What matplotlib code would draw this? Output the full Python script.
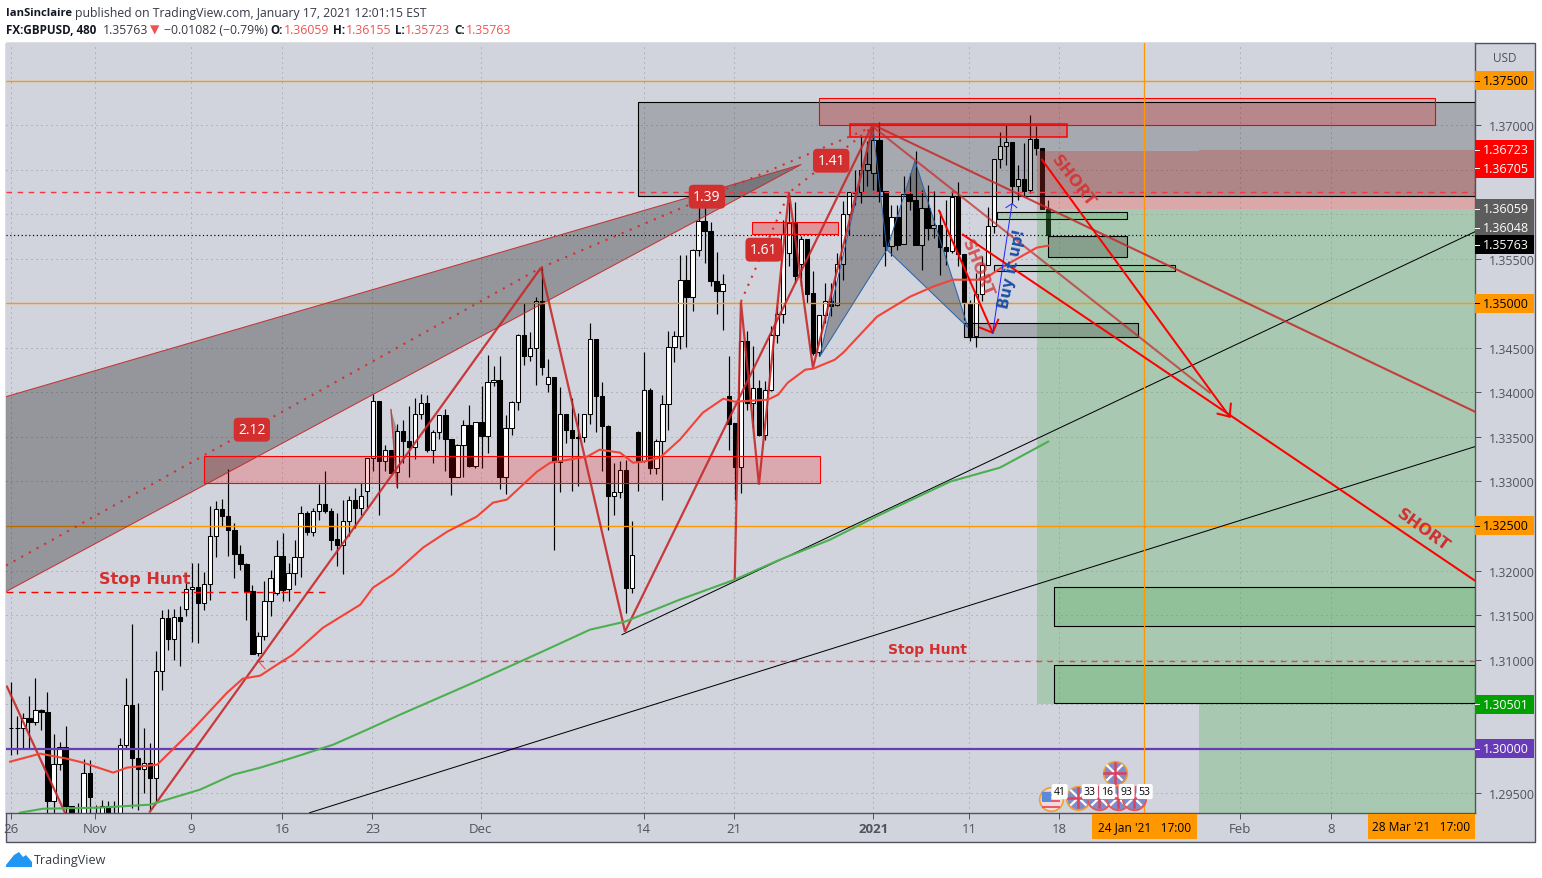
import matplotlib
matplotlib.use("Agg")
import matplotlib.pyplot as plt
from matplotlib.patches import Rectangle, Polygon

plt.rcParams['font.family'] = ['Open Sans', 'DejaVu Sans']

# 8h candles, one row per bar: open, high, low, close
opens = [1.30232,1.30232,1.30232,1.30344,1.30296,1.30434,1.30412,1.29409,1.29828,1.30019,1.29353,1.29270,1.29250,1.29727,1.29260,
 1.29250,1.29353,1.29260,1.29250,1.30037,1.30490,1.29891,1.29772,1.29839,1.29667,1.30872,1.31467,1.31231,1.31478,1.31568,
 1.31792,1.31815,1.31635,1.31849,1.32387,1.32690,1.32612,1.32455,1.32185,1.32073,1.31766,1.31074,1.31261,1.31658,1.31747,
 1.32159,1.31792,1.31972,1.32148,1.32646,1.32429,1.32664,1.32747,1.32668,1.32354,1.32283,1.32556,1.32795,1.32702,1.32896,
 1.33263,1.33903,1.33226,1.33357,1.33102,1.33566,1.33454,1.33383,1.33757,1.33880,1.33349,1.33555,1.33746,1.33476,1.33046,
 1.33405,1.33630,1.33169,1.33667,1.33506,1.34112,1.34139,1.33046,1.33596,1.33892,1.34644,1.34404,1.34494,1.35022,1.34094,
 1.34172,1.33214,1.33757,1.33581,1.33499,1.33499,1.33757,1.34599,1.33955,1.33619,1.32833,1.32878,1.33132,1.31804,1.33555,
 1.33226,1.34030,1.33147,1.33450,1.33869,1.34509,1.34629,1.35261,1.35067,1.35598,1.35920,1.35811,1.35250,1.35134,1.33963,
 1.33656,1.33158,1.34580,1.33877,1.34049,1.33517,1.34026,1.34644,1.34880,1.35564,1.35909,1.35441,1.35722,1.35115,1.34449,
 1.34872,1.35029,1.34977,1.35441,1.36002,1.36249,1.36245,1.36500,1.36462,1.36837,1.36257,1.35639,1.35968,1.35665,1.36227,
 1.36163,1.35650,1.36070,1.35845,1.35882,1.35632,1.35590,1.36200,1.35553,1.35003,1.34636,1.35108,1.35433,1.35871,1.36620,
 1.36762,1.36810,1.36313,1.36395,1.36268,1.36844,1.36739,1.36059]
highs = [1.30748,1.30370,1.30400,1.30595,1.30793,1.30445,1.30636,1.30165,1.30075,1.30258,1.29353,1.29390,1.29884,1.29877,1.29371,
 1.29427,1.29409,1.29409,1.30120,1.30793,1.31403,1.30513,1.30232,1.30064,1.31093,1.31553,1.31568,1.31568,1.31598,1.31878,
 1.32084,1.32084,1.31983,1.32728,1.32777,1.32807,1.33143,1.32533,1.32286,1.32084,1.31841,1.31306,1.31878,1.32009,1.32346,
 1.32421,1.32084,1.32346,1.32728,1.32664,1.32702,1.32975,1.33121,1.32702,1.32646,1.32795,1.32840,1.32926,1.32982,1.33263,
 1.33982,1.33903,1.33405,1.33357,1.33648,1.33693,1.33851,1.33937,1.33982,1.33974,1.33581,1.33750,1.33813,1.33476,1.33420,
 1.33693,1.33862,1.33667,1.34075,1.34423,1.34300,1.34412,1.33750,1.33903,1.34655,1.35003,1.34678,1.35070,1.35396,1.34374,
 1.34172,1.34060,1.33757,1.33937,1.33768,1.33757,1.34779,1.34599,1.34116,1.33637,1.33207,1.33226,1.33244,1.32560,1.33570,
 1.34453,1.34049,1.33476,1.33974,1.34692,1.34692,1.35546,1.35546,1.35609,1.36280,1.36220,1.35909,1.35576,1.35332,1.34412,
 1.33656,1.34580,1.34692,1.34524,1.34142,1.34124,1.34741,1.34966,1.35938,1.36137,1.36137,1.35759,1.35722,1.35359,1.34872,
 1.35228,1.35228,1.35564,1.36152,1.36249,1.36500,1.36874,1.36818,1.36986,1.37035,1.36257,1.36107,1.36107,1.36425,1.36462,
 1.36706,1.36275,1.36331,1.36257,1.36032,1.36163,1.36257,1.36358,1.35553,1.35041,1.35340,1.35527,1.36081,1.36620,1.36923,
 1.36998,1.36810,1.36556,1.36799,1.37117,1.36986,1.36739,1.36155]
lows = [1.29925,1.29944,1.30007,1.30000,1.30269,1.30206,1.29250,1.29250,1.29764,1.29250,1.29250,1.29200,1.29200,1.29250,1.29200,
 1.29250,1.29250,1.29200,1.29250,1.30007,1.29334,1.29315,1.29502,1.29315,1.29390,1.30655,1.31111,1.30999,1.30924,1.31493,
 1.31194,1.31186,1.31560,1.31665,1.32148,1.32503,1.32159,1.31912,1.32009,1.31448,1.31066,1.31037,1.31216,1.31493,1.31729,
 1.31654,1.31661,1.31841,1.31923,1.32402,1.32391,1.32563,1.32646,1.32234,1.32047,1.31961,1.32384,1.32477,1.32627,1.32702,
 1.33113,1.32627,1.33113,1.33095,1.32926,1.33207,1.33046,1.33256,1.33705,1.33327,1.33207,1.33476,1.33113,1.32844,1.33095,
 1.33046,1.33158,1.33151,1.33151,1.33319,1.34068,1.32915,1.32863,1.33525,1.33806,1.34311,1.34356,1.34086,1.34191,1.34000,
 1.32234,1.32878,1.33431,1.32889,1.32945,1.33443,1.33648,1.33551,1.33113,1.32451,1.32627,1.32814,1.31523,1.31748,1.32896,
 1.33218,1.33087,1.33087,1.32795,1.33581,1.34337,1.34487,1.34505,1.34910,1.35527,1.35452,1.35190,1.34883,1.34704,1.33357,
 1.32795,1.32870,1.33806,1.33600,1.33506,1.33469,1.34011,1.34554,1.34779,1.35415,1.35228,1.35190,1.35003,1.34423,1.34404,
 1.34779,1.34853,1.34966,1.35265,1.35770,1.36107,1.36126,1.36313,1.36275,1.36133,1.35415,1.35527,1.35602,1.35665,1.36051,
 1.35650,1.35377,1.35714,1.35733,1.35321,1.35433,1.35564,1.35415,1.34816,1.34573,1.34505,1.35022,1.35433,1.35789,1.36519,
 1.36556,1.36126,1.36163,1.36200,1.36238,1.36668,1.36059,1.35723]
closes = [1.30235,1.30228,1.30344,1.30296,1.30430,1.30408,1.29409,1.29828,1.30019,1.29353,1.29250,1.29250,1.29727,1.29454,1.29250,
 1.29353,1.29250,1.29250,1.30037,1.30490,1.29891,1.29772,1.29839,1.29667,1.30872,1.31467,1.31231,1.31474,1.31429,1.31792,
 1.31815,1.31635,1.31849,1.32387,1.32690,1.32608,1.32451,1.32185,1.32073,1.31766,1.31066,1.31261,1.31658,1.31916,1.32159,
 1.31785,1.31972,1.32148,1.32646,1.32429,1.32664,1.32747,1.32664,1.32346,1.32283,1.32556,1.32788,1.32702,1.32833,1.33263,
 1.33903,1.33226,1.33349,1.33095,1.33566,1.33450,1.33383,1.33757,1.33880,1.33349,1.33555,1.33746,1.33476,1.33046,1.33405,
 1.33630,1.33169,1.33667,1.33506,1.34116,1.34135,1.33046,1.33596,1.33892,1.34644,1.34404,1.34494,1.35022,1.34281,1.34172,
 1.33214,1.33757,1.33574,1.33484,1.33484,1.33757,1.34599,1.33955,1.33619,1.32833,1.32878,1.33132,1.31804,1.32174,1.33226,
 1.34023,1.33147,1.33450,1.33869,1.34509,1.34629,1.35261,1.35067,1.35598,1.35920,1.35808,1.35246,1.35134,1.35216,1.33648,
 1.33158,1.34580,1.33877,1.34049,1.33517,1.34026,1.34644,1.34880,1.35778,1.35901,1.35302,1.35722,1.35108,1.34442,1.34872,
 1.35029,1.34973,1.35441,1.36002,1.36249,1.36238,1.36500,1.36567,1.36837,1.36257,1.35639,1.35968,1.35658,1.36227,1.36152,
 1.35650,1.36070,1.35845,1.35882,1.35628,1.35590,1.36193,1.35553,1.35003,1.34636,1.35108,1.35433,1.35871,1.36620,1.36762,
 1.36810,1.36313,1.36395,1.36264,1.36844,1.36739,1.36059,1.35763]

# moving averages, bar position and price
ema_red_x = [0.8,5.8,10.2,12.9,17.9,20.2,25.2,30.6,36.8,39.4,42.3,45.6,47.7,52.7,58.9,61,64.3,69.3,73.3,78.2,80.9,83.2,88.2,90.4,96.5,98.6,102,104.1,105.8,108.6,111.9,115.7,119.1,121,126.5,128.2,129.8,132.7,134,137.6,139,144.6,150.1,153.9,157.2,162.2,165.5,171.1,173]
ema_red_y = [1.29854,1.29944,1.29888,1.29843,1.29731,1.29787,1.2982,1.3018,1.30629,1.30786,1.3082,1.30966,1.31055,1.31358,1.31617,1.31808,1.31954,1.32257,1.32436,1.32605,1.32762,1.32796,1.3311,1.33211,1.33278,1.33357,1.33323,1.33211,1.33222,1.33267,1.33469,1.33772,1.33929,1.33896,1.33918,1.33974,1.34109,1.34255,1.34266,1.34367,1.34446,1.3485,1.35075,1.35187,1.35265,1.35265,1.35411,1.35625,1.35647]
ema_green_x = [2.4,6.3,15.7,24,32.3,37.8,42.3,47.7,54.4,60,65.5,78.8,88.7,97,102.8,111.9,121,128.5,136.8,145.1,156.7,165,173]
ema_green_y = [1.29281,1.29326,1.29338,1.29371,1.2954,1.29708,1.29787,1.29899,1.30045,1.30213,1.30382,1.30775,1.31078,1.31336,1.31426,1.31673,1.31897,1.32122,1.32346,1.32627,1.32998,1.33155,1.33447]

# price scale
price_ticks = [1.295,1.30,1.305,1.31,1.315,1.32,1.325,1.33,1.335,1.34,1.345,1.35,1.355,1.36,1.365,1.37,1.375]
plain_labels = {1.295:'1.29500',1.31:'1.31000',1.315:'1.31500',1.32:'1.32000',1.33:'1.33000',1.335:'1.33500',1.34:'1.34000',1.345:'1.34500',1.355:'1.35500',1.37:'1.37000'}

# price flags: shown position, text, background, text colour
flag_y = [1.375,1.36723,1.36517,1.36059,1.35849,1.35658,1.35,1.325,1.30501,1.30]
flag_text = ['1.37500','1.36723','1.36705','1.36059','1.36048','1.35763','1.35000','1.32500','1.30501','1.30000']
flag_bg = ['#ff9800','#ff0000','#ff0000','#5d5d5d','#5d5d5d','#000000','#ff9800','#ff9800','#00a000','#673ab7']
flag_fg = ['black','white','white','white','white','white','black','black','white','white']

# time scale
date_ticks = [1,14.93,30.86,45.95,60.9,78.9,105.9,120.9,144,159.9,174.8,204.8,219.9]
date_labels = ['26','Nov','9','16','23','Dec','14','21','2021','11','18','Feb','8']

XMIN, XMAX = 0.12, 243.8
YMIN, YMAX = 1.29281, 1.37926

fig = plt.figure(figsize=(15.42, 8.79), dpi=100)
W, H = 1542.0, 879.0
bg = '#d1d4dc'
fig.patches.append(Rectangle((6/W, 1-842.5/H), 1529/W, 799/H, transform=fig.transFigure, facecolor=bg, edgecolor='#50535e', lw=1.0, zorder=-1))

ax = fig.add_axes([6/W, 1-813.7/H, 1469/W, 770/H])
ax.set_facecolor(bg)
ax.set_xlim(XMIN, XMAX)
ax.set_ylim(YMIN, YMAX)
for s in ['left', 'top']:
    ax.spines[s].set_visible(False)
for s in ['right', 'bottom']:
    ax.spines[s].set_color('#50535e')
    ax.spines[s].set_linewidth(1.0)

ax.yaxis.tick_right()
ax.set_yticks(price_ticks)
ax.set_yticklabels([plain_labels.get(p, '') for p in price_ticks], fontsize=9, color='#50535e')
ax.set_xticks(date_ticks)
ax.set_xticklabels(date_labels, fontsize=9.5, color='#50535e')
ax.get_xticklabels()[8].set_fontweight('bold')
ax.tick_params(axis='y', length=4, width=0.72, color='#50535e', pad=6)
ax.tick_params(axis='x', length=4, width=0.72, color='#50535e', pad=3)
ax.grid(True, color='#9598a1', lw=0.72, ls=(0, (1, 4)), zorder=0)
ax.set_axisbelow(True)

# candles
n = list(range(1, len(opens)+1))
ax.vlines(n, lows, highs, color='black', lw=0.85, zorder=2)
for i in range(len(opens)):
    top = max(opens[i], closes[i])
    bot = min(opens[i], closes[i])
    col = 'white' if closes[i] >= opens[i] else 'black'
    ax.add_patch(Rectangle((n[i]-0.36, bot), 0.72, top-bot, facecolor=col, edgecolor='black', lw=0.75, zorder=2))

# position tool
ax.add_patch(Rectangle((171.1, 1.30501), 26.9, 1.36059-1.30501, facecolor='#4caf50', alpha=0.3, lw=0, zorder=3))
ax.add_patch(Rectangle((198.0, YMIN), XMAX-198.0, 1.36059-YMIN, facecolor='#4caf50', alpha=0.3, lw=0, zorder=3))
ax.add_patch(Rectangle((171.1, 1.36059), 26.9, 1.36705-1.36059, facecolor='#f44336', alpha=0.3, lw=0, zorder=3))
ax.add_patch(Rectangle((198.0, 1.36059), XMAX-198.0, 1.36723-1.36059, facecolor='#f44336', alpha=0.3, lw=0, zorder=3))

def box(x0, x1, y0, y1, face, alpha, edge, lw=0.8):
    ax.add_patch(Rectangle((x0, y0), x1-x0, y1-y0, facecolor=face, alpha=alpha, lw=0, zorder=3))
    ax.add_patch(Rectangle((x0, y0), x1-x0, y1-y0, fill=False, edgecolor=edge, lw=lw, zorder=4))

box(104.95, XMAX, 1.36209, 1.37264, 'black', 0.2, 'black')
box(135.0, 237.1, 1.37006, 1.37309, '#ff0000', 0.2, '#ff0000')
box(140.1, 176.1, 1.36871, 1.37017, '#ff0000', 0.25, '#ff0000', 1.1)
box(32.96, 135.1, 1.32986, 1.33290, '#ff0000', 0.2, '#ff0000')
box(123.9, 138.1, 1.35782, 1.35917, '#ff0000', 0.3, '#ff0000')
box(159.0, 187.9, 1.34625, 1.34783, 'black', 0.2, 'black')
box(164.5, 186.1, 1.35950, 1.36029, '#4caf50', 0.25, 'black')
box(172.95, 186.1, 1.35524, 1.35759, 'black', 0.2, 'black')
box(164.0, 194.0, 1.35367, 1.35434, '#4caf50', 0.2, 'black')
box(173.95, XMAX, 1.31381, 1.31819, '#4caf50', 0.25, 'black')
box(173.95, XMAX, 1.30516, 1.30943, '#4caf50', 0.25, 'black')

# level lines
ax.hlines([1.375, 1.35, 1.325], XMIN, XMAX, color='#ff9800', lw=1.0, zorder=3, snap=True)
ax.hlines(1.30, XMIN, XMAX, color='#673ab7', lw=1.6, zorder=3)
ax.hlines(1.35763, XMIN, XMAX, color='black', lw=0.85, ls=(0, (1, 2.2)), zorder=3)
ax.hlines(1.36253, XMIN, XMAX, color='#f23645', lw=1.0, ls=(0, (4, 4)), zorder=4, snap=True)
ax.hlines(1.31763, XMIN, 53, color='#ff0000', lw=1.0, ls=(0, (5, 4)), zorder=4, snap=True)
ax.hlines(1.30988, 41.9, XMAX, color='#f03c48', lw=1.0, ls=(0, (4, 4)), zorder=4, snap=True)
ax.plot([43.1, 41.9, 43.1], [1.3108, 1.30988, 1.30896], color='#ef5350', lw=0.8, zorder=4)
ax.axvline(188.9, color='#ff9800', lw=0.9, zorder=5)

# wedge and harmonic shapes
ax.add_patch(Polygon([(0.12, 1.33952), (132.0, 1.36557), (0.12, 1.31763)], facecolor='black', alpha=0.29, lw=0, zorder=3))
ax.plot([0.12, 132.0, 0.12], [1.33952, 1.36557, 1.31763], color='#c62828', lw=0.75, alpha=0.9, zorder=4)
ax.add_patch(Polygon([(63.98, 1.33806), (64.98, 1.32941), (64.98, 1.33581)], facecolor='black', alpha=0.29, lw=0, zorder=3))
for pts in ([(135.1, 1.34401), (143.9, 1.36983), (146.25, 1.35602)], [(146.25, 1.35602), (150.9, 1.36601), (159.7, 1.34727)]):
    ax.add_patch(Polygon(pts, facecolor='black', alpha=0.29, lw=0, zorder=3))
    ax.add_patch(Polygon(pts, fill=False, edgecolor='#2962a8', lw=0.72, zorder=4))

# dotted fib lines
ax.plot([0.12, 88.86, 143.9], [1.32055, 1.354, 1.36983], color='#d32f2f', lw=1.5, ls=(0, (1, 3.2)), zorder=4)
ax.plot([122.03, 130.0, 143.9], [1.35018, 1.36242, 1.36983], color='#d32f2f', lw=1.5, ls=(0, (1, 3.2)), zorder=4)

# zigzags
zz = dict(color='#c62828', lw=1.6, alpha=0.9, zorder=5, solid_joinstyle='miter')
ax.plot([24.0, 88.86, 102.8, 143.9], [1.29293, 1.354, 1.31314, 1.37006], **zz)
ax.plot([121.0, 122.03, 125.02, 130.0, 133.98, 143.9], [1.31897, 1.35018, 1.32964, 1.36242, 1.34277, 1.36983], **zz)
ax.plot([0.29, 9.9], [1.30696, 1.29281], **zz)
ax.plot([63.98, 64.98], [1.33806, 1.32941], color='#c62828', lw=1.1, alpha=0.8, zorder=5)
ax.plot([143.9, XMAX], [1.37006, 1.33783], color='#c62828', lw=1.5, alpha=0.85, zorder=5)
ax.plot([143.9, 199.8], [1.36983, 1.33997], color='#c62828', lw=1.5, alpha=0.7, zorder=5)

# arrows
red = dict(color='#ff0000', lw=1.45, zorder=6)
ax.plot([171.96, 203.1], [1.36613, 1.33727], **red)
ax.plot([201.1, 203.1, 203.3], [1.33761, 1.33727, 1.33873], **red)
ax.plot([158.85, XMAX], [1.35771, 1.31886], **red)
ax.plot([154.9, 163.8], [1.3604, 1.3467], **red)
ax.plot([161.7, 163.8, 164.7], [1.34727, 1.3467, 1.34816], **red)
ax.plot([163.8, 167.0], [1.3467, 1.36119], color='#2424ff', lw=0.72, zorder=6)
ax.plot([166.0, 167.0, 167.8], [1.36075, 1.36119, 1.36075], color='#2424ff', lw=0.72, zorder=6)

# trend lines and averages
ax.plot([102.3, XMAX], [1.3128, 1.35804], color='black', lw=0.72, zorder=4)
ax.plot([50.5, XMAX], [1.29281, 1.33391], color='black', lw=0.72, zorder=4)
ax.plot(ema_red_x, ema_red_y, color='#f44336', lw=1.5, zorder=5)
ax.plot(ema_green_x, ema_green_y, color='#4caf50', lw=1.5, zorder=5)

# red ratio tags
for x, y, s in [(40.9, 1.33581, '2.12'), (116.4, 1.36197, '1.39'), (137.0, 1.36601, '1.41'), (125.8, 1.35602, '1.61')]:
    ax.text(x, y, s, color='white', fontsize=10, ha='center', va='center', zorder=7,
            bbox=dict(boxstyle='round,pad=0.32', fc='#d32f2f', ec='none'))

drawn = dict(color='#d32f2f', family='DejaVu Sans', fontweight='bold', ha='center', va='center', zorder=7)
ax.text(23.2, 1.31909, 'Stop Hunt', fontsize=11.5, **drawn)
ax.text(152.9, 1.31123, 'Stop Hunt', fontsize=10, **drawn)
ax.text(177.1, 1.36377, 'SHORT', fontsize=11.5, rotation=-52, alpha=0.85, **drawn)
ax.text(161.2, 1.354, 'SHORT', fontsize=11.5, rotation=-68, alpha=0.75, **drawn)
ax.text(235.2, 1.32459, 'SHORT', fontsize=11.5, rotation=-36, **drawn)
ax.text(167.0, 1.354, 'Buy it up!', fontsize=10.5, rotation=78, color='#1e4fa8', family='DejaVu Sans',
        fontweight='bold', ha='center', va='center', zorder=7)

# economic event flags
uk_x = [178.0, 181.5, 184.6, 187.2, 184.0]
uk_y = [1.29450, 1.29450, 1.29450, 1.29450, 1.29730]
uk_edge = ['#f0a030', '#f05050', '#f05050', '#f05050', '#f0a030']
ax.scatter([173.5], [1.29440], s=290, facecolor='#f0d8dc', edgecolor='#f0a030', lw=1.2, zorder=8)
ax.hlines([1.2948, 1.2941, 1.2934], 172.0, 175.0, color='#e8505e', lw=1.3, zorder=8)
ax.scatter([172.7], [1.2947], s=38, marker='s', color='#5a8ad8', zorder=8)
for x, y, e in zip(uk_x, uk_y, uk_edge):
    ax.scatter([x], [y], s=290, facecolor='#7f8cc8', edgecolor=e, lw=1.2, zorder=8)
    ax.plot([x-1.2, x+1.2], [y-0.0008, y+0.0008], color='white', lw=1.6, zorder=8)
    ax.plot([x-1.2, x+1.2], [y+0.0008, y-0.0008], color='white', lw=1.6, zorder=8)
    ax.plot([x-1.7, x+1.7], [y, y], color='#e0405a', lw=1.8, zorder=8)
    ax.plot([x, x], [y-0.0011, y+0.0011], color='#e0405a', lw=1.8, zorder=8)
bubble_x = [174.9, 179.9, 182.8, 186.0, 189.0]
bubble_text = ['41', '33', '16', '93', '53']
for x, s in zip(bubble_x, bubble_text):
    ax.text(x, 1.29518, s, fontsize=7.5, color='black', ha='center', va='center', zorder=9,
            bbox=dict(boxstyle='round,pad=0.2', fc='white', ec='none'))

# flags on the price scale
ty = ax.get_yaxis_transform()
ax.text(1.0205, 1.37758, 'USD', transform=ty, fontsize=8.5, color='#50535e', ha='center', va='center')
half = 9.5/8907
for y, s, b, f in zip(flag_y, flag_text, flag_bg, flag_fg):
    ax.add_patch(Rectangle((1.0, y-half), 0.0405, 2*half, transform=ty, facecolor=b, lw=0, clip_on=False, zorder=10))
    ax.plot([1.0, 1.0027], [y, y], transform=ty, color=f, lw=0.72, clip_on=False, zorder=11)
    ax.text(1.0208, y, s, transform=ty, fontsize=9, color=f, ha='center', va='center', zorder=11, clip_on=False)

# time labels under the axis
tx = ax.get_xaxis_transform()
for x0, x1, s in [(180.2, 197.7, "24 Jan '21   17:00"), (226.0, XMAX, "28 Mar '21   17:00")]:
    ax.add_patch(Rectangle((x0, -26/770), x1-x0, 25/770, transform=tx, facecolor='#ff9800', lw=0, clip_on=False, zorder=10))
    ax.text((x0+x1)/2, -14/770, s, transform=tx, fontsize=8.6, color='black', ha='center', va='center', clip_on=False, zorder=11)

# header lines
def head(x, y, s, size=8.8, **kw):
    kw.setdefault('color', '#131722')
    fig.text(x/W, 1-y/H, s, fontsize=size, va='center', **kw)

head(6, 13, 'IanSinclaire', size=8.1, fontweight='bold')
head(75, 13, 'published on TradingView.com, January 17, 2021 12:01:15 EST', color='#363a45')
head(6, 30, 'FX:GBPUSD, 480', size=8.4, fontweight='bold')
head(103, 30, '1.35763', color='#363a45')
head(150, 30, '\u25bc', color='#ef5350')
head(164, 30, '\u22120.01082 (\u22120.79%)', color='#363a45')
for x, s in [(270, 'O:'), (333, 'H:'), (395, 'L:'), (454, 'C:')]:
    head(x, 30, s, size=8.4, fontweight='bold')
for x, s in [(284, '1.36059'), (346, '1.36155'), (405, '1.35723'), (466, '1.35763')]:
    head(x, 30, s, color='#ef5350')

# logo
fig.patches.append(Polygon([(6/W, 1-866/H), (14/W, 1-856/H), (19/W, 1-853/H), (23/W, 1-858/H), (26/W, 1-856/H), (32/W, 1-863/H), (32/W, 1-868/H), (6/W, 1-868/H)],
                           transform=fig.transFigure, facecolor='#2196f3', lw=0))
fig.text(34/W, 1-861/H, 'TradingView', fontsize=9, color='#363a45', va='center')

fig.savefig('out.png', dpi=100)
